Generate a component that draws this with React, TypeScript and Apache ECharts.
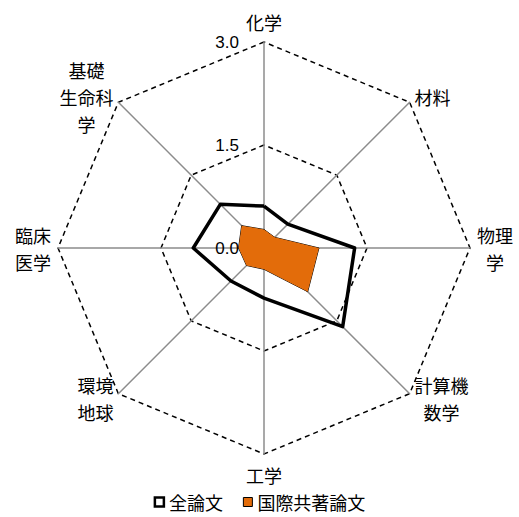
import React, { useEffect, useRef } from "react";
import * as echarts from "echarts";

// Categories in clockwise order starting at the top
const categories = ["化学", "材料", "物理学", "計算機数学", "工学", "環境地球", "臨床医学", "基礎生命科学"];
const categoryLines = [["化学"], ["材料"], ["物理", "学"], ["計算機", "数学"], ["工学"], ["環境", "地球"], ["臨床", "医学"], ["基礎", "生命科", "学"]];
const allPapers = [0.61, 0.49, 1.32, 1.62, 0.73, 0.68, 1.03, 0.9];
const intlPapers = [0.27, 0.22, 0.8, 0.9, 0.31, 0.36, 0.37, 0.46];
const seriesNames = ["全論文", "国際共著論文"];
const axisMax = 3.0;

const FONT = "'Noto Sans CJK JP', 'Noto Sans', sans-serif";

// ECharts radar runs counter-clockwise: keep first, reverse the rest
const ccw = <T,>(arr: T[]): T[] => [arr[0], ...arr.slice(1).reverse()];

export default function App() {
  const ref = useRef<HTMLDivElement>(null);
  useEffect(() => {
    if (!ref.current) return;
    const chart = echarts.init(ref.current, null, { renderer: "svg" });
    const lineMap: Record<string, string[]> = {};
    categories.forEach((c, i) => (lineMap[c] = categoryLines[i]));
    const indicators = ccw(categories).map((name, i) => {
      const ind: any = { name, min: 0, max: axisMax };
      if (i === 0) {
        ind.axisLabel = {
          show: true,
          color: "#000",
          fontSize: 17,
          margin: 25,
          fontFamily: "'Liberation Sans', Arial, sans-serif",
          formatter: (v: number) => Number(v).toFixed(1),
        };
      }
      return ind;
    });
    chart.setOption({
      animation: false,
      backgroundColor: "#fff",
      textStyle: { fontFamily: FONT },
      legend: {
        top: 487,
        left: "center",
        itemWidth: 9,
        itemHeight: 9,
        itemGap: 20,
        textStyle: { fontSize: 18, lineHeight: 20, color: "#000", fontFamily: FONT },
        data: [
          { name: seriesNames[0], icon: "rect", itemStyle: { color: "#fff", borderColor: "#000", borderWidth: 2.5 } },
          { name: seriesNames[1], icon: "rect", itemStyle: { color: "#E36C0A", borderColor: "#000", borderWidth: 1 } },
        ],
      },
      radar: {
        center: [264, 248],
        radius: 206,
        startAngle: 90,
        splitNumber: 2,
        shape: "polygon",
        nameGap: 7,
        indicator: indicators,
        axisName: {
          color: "#000",
          fontSize: 18,
          fontFamily: FONT,
          formatter: (name: string) => (lineMap[name] || [name]).map((l) => `{c|${l}}`).join("\n"),
          rich: {
            c: { align: "center", fontSize: 18, lineHeight: 27, color: "#000", fontFamily: FONT },
          },
        },
        axisLine: { lineStyle: { color: "#8c8c8c", width: 1.5 } },
        splitLine: { lineStyle: { color: "#000", width: 1.5, type: [5, 4] } },
        splitArea: { show: false },
        axisTick: { show: false },
        axisLabel: { show: false },
      },
      series: [
        {
          type: "radar",
          symbol: "none",
          data: [
            {
              name: seriesNames[0],
              value: ccw(allPapers),
              lineStyle: { color: "#000", width: 3.5 },
              itemStyle: { color: "#000" },
            },
            {
              name: seriesNames[1],
              value: ccw(intlPapers),
              lineStyle: { color: "#000", width: 1 },
              itemStyle: { color: "#E36C0A" },
              areaStyle: { color: "#E36C0A", opacity: 1 },
            },
          ],
        },
      ],
    });
    return () => chart.dispose();
  }, []);
  return <div ref={ref} style={{ position: "absolute", left: 0, top: 0, width: 519, height: 517 }} />;
}
